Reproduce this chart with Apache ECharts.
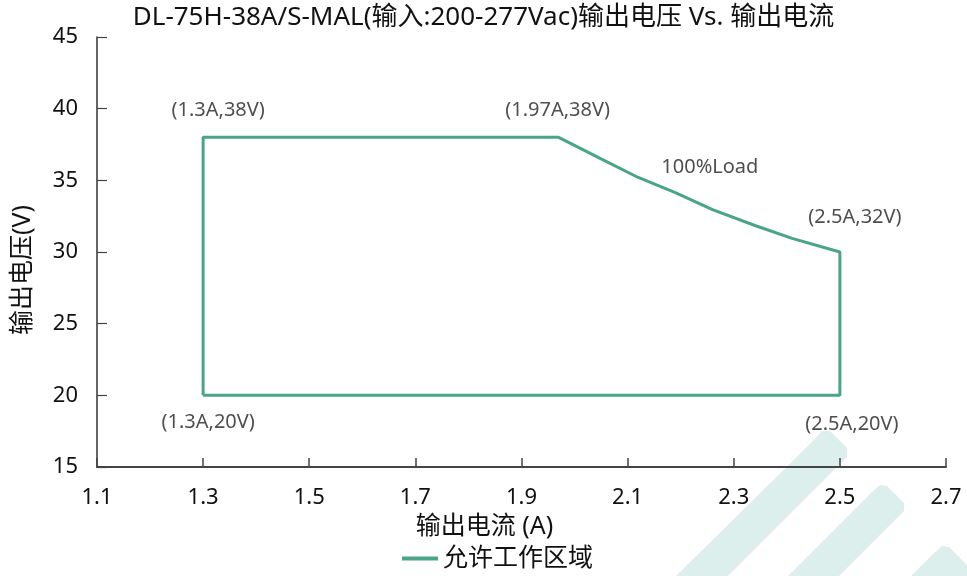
<!DOCTYPE html>
<html>
<head>
<meta charset="utf-8">
<script src="https://cdn.jsdelivr.net/npm/echarts@6/dist/echarts.min.js"></script>
<style>html,body{margin:0;padding:0;background:#fff}#c{width:967px;height:576px}</style>
</head>
<body>
<div id="c"></div>
<script>
// ---- data ----
const titleText = 'DL-75H-38A/S-MAL(输入:200-277Vac)输出电压 Vs. 输出电流';
const xName = '输出电流 (A)';
const yName = '输出电压(V)';
const seriesName = '允许工作区域';
const currentA = [1.3, 1.3, 1.97, 2.05, 2.12, 2.19, 2.26, 2.34, 2.41, 2.5, 2.5, 1.3];
const voltageV = [20, 38, 38, 36.5, 35.2, 34.15, 32.95, 31.85, 30.95, 30, 20, 20];
const noteX = [1.3, 1.97, 2.255, 2.5, 1.3, 2.5];
const noteY = [38, 38, 35.9, 30, 20, 20];
const noteText = ['(1.3A,38V)', '(1.97A,38V)', '100%Load', '(2.5A,32V)', '(1.3A,20V)', '(2.5A,20V)'];

// ---- presentation ----
const noteOffsets = [[15, -27], [-1, -27], [0, 0], [15, -35], [5, 27], [12, 29]];
const FONT = '"Noto Sans", "Noto Sans CJK SC", sans-serif';
const lineColor = '#48a585';
const wm = '#ddefed';

const chart = echarts.init(document.getElementById('c'));
chart.setOption({
  animation: false,
  backgroundColor: '#fff',
  textStyle: { fontFamily: FONT },
  title: {
    text: titleText, left: 'center', top: 0,
    textStyle: { fontSize: 26, fontWeight: 'normal', color: '#111', fontFamily: FONT }
  },
  graphic: [
    { type: 'polygon', z: -1, silent: true, shape: { points: [[814,440],[822,431],[830,431],[847,448],[847,457],[728,576],[676,576]] }, style: { fill: wm } },
    { type: 'polygon', z: -1, silent: true, shape: { points: [[872,492],[880,485],[887,486],[904,503],[904,511],[839,576],[788,576]] }, style: { fill: wm } },
    { type: 'polygon', z: -1, silent: true, shape: { points: [[934,553],[942,546],[949,547],[967,565],[967,576],[911,576]] }, style: { fill: wm } }
  ],
  legend: {
    data: [{ name: seriesName, icon: 'rect' }],
    left: 397, top: 541, itemWidth: 36, itemHeight: 4, itemGap: 8,
    textStyle: { fontSize: 25, color: '#111', fontFamily: FONT }
  },
  grid: { left: 97, right: 21, top: 37, bottom: 109, containLabel: false, outerBoundsMode: 'none' },
  xAxis: {
    type: 'value', min: 1.1, max: 2.7, interval: 0.2,
    name: xName, nameLocation: 'middle', nameGap: 47,
    nameTextStyle: { fontSize: 25, color: '#111', fontFamily: FONT, padding: [0, 74, 0, 0] },
    axisLine: { show: true, lineStyle: { color: '#444', width: 2 } },
    axisTick: { show: true, inside: true, length: 9, lineStyle: { color: '#444', width: 1.5 } },
    axisLabel: { fontSize: 22, color: '#111', margin: 20, formatter: v => v.toFixed(1) },
    splitLine: { show: false }
  },
  yAxis: {
    type: 'value', min: 15, max: 45, interval: 5,
    name: yName, nameLocation: 'middle', nameGap: 62,
    nameTextStyle: { fontSize: 25, color: '#111', fontFamily: FONT, padding: [0, 36, 0, 0] },
    axisLine: { show: true, lineStyle: { color: '#333', width: 1.5 } },
    axisTick: { show: true, inside: true, length: 10, lineStyle: { color: '#444', width: 1.2 } },
    axisLabel: { fontSize: 22, color: '#111', margin: 19 },
    splitLine: { show: false }
  },
  series: [
    {
      name: seriesName, type: 'line', showSymbol: false, symbol: 'none',
      data: currentA.map((x, i) => [x, voltageV[i]]),
      lineStyle: { color: lineColor, width: 3 },
      itemStyle: { color: lineColor },
      z: 3
    },
    {
      name: 'notes', type: 'scatter', symbolSize: 0, silent: true,
      data: noteX.map((x, i) => ({
        value: [x, noteY[i]],
        label: { show: true, position: 'inside', offset: noteOffsets[i], formatter: noteText[i] }
      })),
      label: { fontSize: 20, color: '#222', fontFamily: FONT },
      z: 4
    }
  ]
});
</script>
</body>
</html>
